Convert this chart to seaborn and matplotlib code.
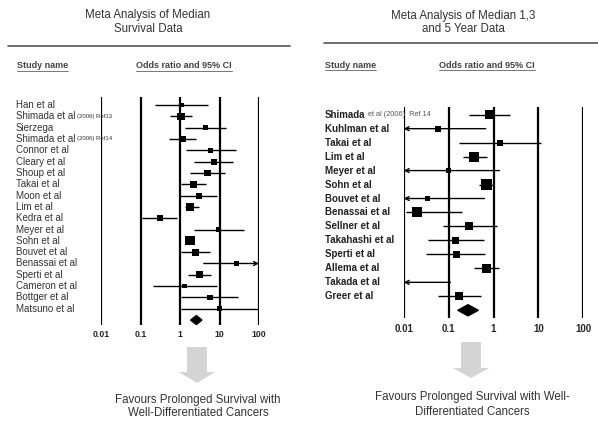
import pandas as pd
import matplotlib
matplotlib.use("Agg")
import matplotlib.pyplot as plt
import seaborn as sns
from matplotlib.patches import Polygon
from matplotlib.transforms import blended_transform_factory


# LEFT PANEL DATA (median survival)
left_studies = ["Han et al", "Shimada et al", "Sierzega", "Shimada et al", "Connor et al",
                "Cleary et al", "Shoup et al", "Takai et al", "Moon et al", "Lim et al",
                "Kedra et al", "Meyer et al", "Sohn et al", "Bouvet et al", "Benassai et al",
                "Sperti et al", "Cameron et al", "Bottger et al", "Matsuno et al"]
left_notes = ["", "(2006) Ref13", "", "(2006) Ref14", "", "", "", "", "", "",
              "", "", "", "", "", "", "", "", ""]
left_or = [1.1, 1.06, 4.4, 1.17, 5.9, 7.1, 4.9, 2.2, 3.1, 1.8,
           0.31, 9.6, 1.8, 2.5, 27, 3.1, 1.3, 5.7, 10.2]
left_lo = [0.23, 0.56, 1.36, 0.53, 1.4, 2.3, 1.8, 1.08, 1.02, 1.36,
           0.11, 2.2, 1.5, 1.06, 4.0, 1.6, 0.21, 1.06, 1.06]
left_hi = [5.2, 2.0, 15, 2.6, 26, 22, 13.6, 4.5, 8.7, 3.0,
           0.84, 42, 2.2, 5.7, 300, 6.0, 8.4, 30, 94]
left_weight = [4.7, 7.3, 5.3, 6.7, 5, 6, 6.7, 7.3, 6, 8.7,
               6, 5, 9.3, 7.3, 5.3, 7.3, 4.7, 5.3, 4.7]
left_pooled = [2.6, 1.85, 3.6]

# RIGHT PANEL DATA (median 1, 3 and 5 year)
right_studies = ["Shimada", "Kuhlman et al", "Takai et al", "Lim et al", "Meyer et al",
                 "Sohn et al", "Bouvet et al", "Benassai et al", "Sellner et al",
                 "Takahashi et al", "Sperti et al", "Allema et al", "Takada et al", "Greer et al"]
right_notes = ["et al (2006)  Ref 14", "", "", "", "", "", "", "", "", "", "", "", "", ""]
right_or = [0.81, 0.059, 1.4, 0.37, 0.1, 0.69, 0.034, 0.02, 0.29,
            0.14, 0.15, 0.69, 0.004, 0.17]
right_lo = [0.29, 0.002, 0.17, 0.21, 0.002, 0.48, 0.002, 0.011, 0.074,
            0.035, 0.032, 0.36, 0.002, 0.057]
right_hi = [2.35, 0.67, 11.4, 0.71, 1.36, 1.0, 0.63, 0.2, 1.19,
            0.6, 0.66, 1.3, 0.11, 0.53]
right_weight = [9.3, 6, 6, 10, 5.3, 10.7, 5.3, 10, 8, 7.3, 7.3, 9.3, 6, 8]
right_pooled = [0.27, 0.16, 0.46]

ticks = [0.01, 0.1, 1, 10, 100]
tick_labels = ["0.01", "0.1", "1", "10", "100"]

sns.set_theme(style="white")
plt.rcParams["font.family"] = ["Liberation Sans", "DejaVu Sans"]

W, H = 598, 421
fig = plt.figure(figsize=(W / 100, H / 100), dpi=100)
fig.patch.set_facecolor("white")

# overlay in pixel coordinates for titles, rules, arrows
ov = fig.add_axes([0, 0, 1, 1])
ov.set_xlim(0, W)
ov.set_ylim(H, 0)
ov.axis("off")
ov.patch.set_alpha(0)


def px_axes(x0, x1, y0, y1):
    return fig.add_axes([x0 / W, 1 - y1 / H, (x1 - x0) / W, (y1 - y0) / H])


def forest(ax, studies, notes, ors, los, his, weights, pooled, ylim,
           label_x, label_kw, note_kw, tick_size, pad):
    n = len(studies)
    df = pd.DataFrame({"study": studies, "OR": ors, "lo": los, "hi": his,
                       "row": range(n), "area": [(w * 0.72) ** 2 for w in weights]})
    ax.set_xscale("log")
    ax.set_xlim(ticks[0], ticks[-1])
    ax.set_ylim(*ylim)
    for t in ticks:
        ax.axvline(t, color="black", lw=1.6, zorder=1)

    for _, r in df.iterrows():
        lo = max(r["lo"], ticks[0])
        hi = min(r["hi"], ticks[-1])
        if r["lo"] < ticks[0]:
            ax.annotate("", xy=(lo, r["row"]), xytext=(hi, r["row"]),
                        arrowprops=dict(arrowstyle="->", lw=1.0, color="black",
                                        shrinkA=0, shrinkB=0,
                                        mutation_scale=7))
        elif r["hi"] > ticks[-1]:
            ax.annotate("", xy=(hi, r["row"]), xytext=(lo, r["row"]),
                        arrowprops=dict(arrowstyle="->", lw=1.0, color="black",
                                        shrinkA=0, shrinkB=0,
                                        mutation_scale=7))
        else:
            ax.hlines(r["row"], lo, hi, color="black", lw=1.0, zorder=2)

    amin, amax = df["area"].min(), df["area"].max()
    sns.scatterplot(data=df, x="OR", y="row", size="area", sizes=(amin, amax),
                    size_norm=(amin, amax), marker="s", color="black",
                    linewidth=0, legend=False, ax=ax, zorder=3)

    # pooled diamond
    est, plo, phi = pooled
    ax.fill([plo, est, phi, est], [n, n - 0.4, n, n + 0.4], color="black", zorder=3)

    ax.set_xticks(ticks)
    ax.set_xticklabels(tick_labels, fontsize=tick_size, fontweight="bold")
    ax.minorticks_off()
    ax.tick_params(axis="x", length=0, pad=pad)
    ax.set_yticks([])
    ax.set_xlabel("")
    ax.set_ylabel("")
    for s in ax.spines.values():
        s.set_visible(False)
    ax.patch.set_alpha(0)

    tr = blended_transform_factory(ov.transData, ax.transData)
    fig.canvas.draw()
    renderer = fig.canvas.get_renderer()
    for i, (name, note) in enumerate(zip(studies, notes)):
        t = ax.text(label_x, i, name, transform=tr, va="center", ha="left", **label_kw)
        if note:
            bb = t.get_window_extent(renderer)
            xn = ov.transData.inverted().transform((bb.x1, 0))[0] + 2
            ax.text(xn, i, note, transform=tr, va="center", ha="left", **note_kw)


# LEFT PANEL
ax_l = px_axes(101, 259, 97, 325)
forest(ax_l, left_studies, left_notes, left_or, left_lo, left_hi, left_weight,
       left_pooled, ((325 - 105) / 11.32, (97 - 105) / 11.32), 16,
       dict(fontsize=7, color="#333333"), dict(fontsize=4.3, color="#333333"),
       6.3, 3.5)

# RIGHT PANEL
ax_r = px_axes(403.7, 583.3, 107, 318)
forest(ax_r, right_studies, right_notes, right_or, right_lo, right_hi, right_weight,
       right_pooled, ((318 - 114.7) / 13.97, (107 - 114.7) / 13.97), 325,
       dict(fontsize=7, color="#222222", fontweight="bold"),
       dict(fontsize=5.3, color="#555555"),
       7, 4.5)

# TITLES AND RULES
ov.text(148, 22, "Meta Analysis of Median\nSurvival Data", ha="center", va="center",
        fontsize=8.3, color="#333333")
ov.text(463, 22.5, "Meta Analysis of Median 1,3\nand 5 Year Data", ha="center", va="center",
        fontsize=8.3, color="#333333")
ov.plot([8, 290], [46, 46], color="#555555", lw=1.2)
ov.plot([324, 598], [43, 43], color="#555555", lw=1.2)

headers = [(17, 66, "Study name"), (136, 66, "Odds ratio and 95% CI"),
           (325, 65, "Study name"), (439, 65, "Odds ratio and 95% CI")]
fig.canvas.draw()
renderer = fig.canvas.get_renderer()
for x, y, txt in headers:
    t = ov.text(x, y, txt, ha="left", va="center", fontsize=6.5,
                fontweight="bold", color="#444444")
    bb = t.get_window_extent(renderer)
    x1 = ov.transData.inverted().transform((bb.x1, 0))[0]
    ov.plot([x, x1], [y + 4.5, y + 4.5], color="#777777", lw=0.7)

# BLOCK ARROWS
for cx, top, neck, tip in [(197, 347, 372, 383), (471, 342, 368, 378)]:
    shaft, head = 10, 18
    pts = [(cx - shaft, top), (cx + shaft, top), (cx + shaft, neck), (cx + head, neck),
           (cx, tip), (cx - head, neck), (cx - shaft, neck)]
    ov.add_patch(Polygon(pts, closed=True, facecolor="#d4d4d4", edgecolor="none"))

ov.text(198, 406.5, "Favours Prolonged Survival with\nWell-Differentiated Cancers",
        ha="center", va="center", fontsize=8.3, color="#333333")
ov.text(472, 404.5, "Favours Prolonged Survival with Well-\nDifferentiated Cancers",
        ha="center", va="center", fontsize=8.3, color="#333333", linespacing=1.3)

plt.savefig("out.png", dpi=100)
